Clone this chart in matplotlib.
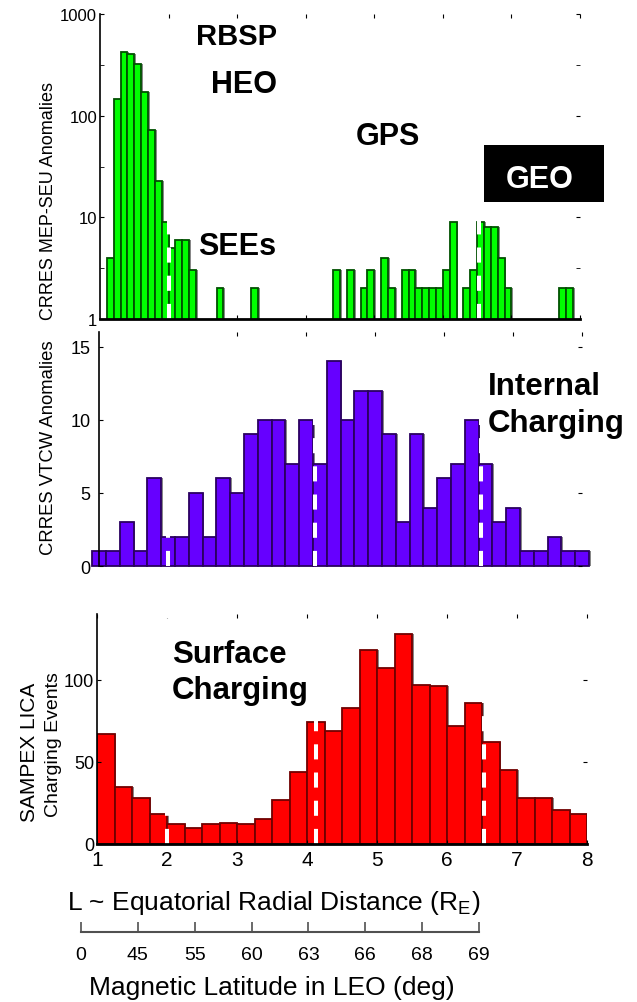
import matplotlib
matplotlib.use('Agg')
import matplotlib.pyplot as plt
from matplotlib.patches import Rectangle
from matplotlib.ticker import NullFormatter

plt.rcParams['font.family'] = ['Liberation Sans', 'DejaVu Sans']
plt.rcParams['mathtext.fontset'] = 'custom'
plt.rcParams['mathtext.rm'] = 'Liberation Sans'

W, H = 637, 1003

# CRRES MEP-SEU anomalies (bins of 0.1 L, left edges)
seu_L = [1.1, 1.2, 1.3, 1.4, 1.5, 1.6, 1.7, 1.8, 1.9, 2.0, 2.1, 2.2, 2.3,
         2.7, 3.2,
         4.4, 4.6, 4.8, 4.9, 5.1, 5.2, 5.4, 5.5, 5.6, 5.7, 5.8, 5.9, 6.0,
         6.1, 6.3, 6.4, 6.5, 6.6, 6.7, 6.8, 6.9, 7.7, 7.8]
seu_n = [4, 145, 420, 400, 320, 170, 73, 23, 9, 5, 6, 6, 3,
         2, 2,
         3, 3, 2, 3, 4, 2, 3, 3, 2, 2, 2, 2, 3,
         9, 2, 3, 9, 8, 8, 4, 2, 2, 2]

# CRRES VTCW anomalies (bins of 0.2 L starting at 0.9)
vtcw_start = 0.9
vtcw_n = [1, 1, 3, 1, 6, 2, 2, 5, 2, 6, 5, 9, 10, 10, 7, 10, 7, 14,
          10, 12, 12, 9, 3, 9, 4, 6, 7, 10, 7, 3, 4, 1, 1, 2, 1, 1]

# SAMPEX LICA charging events (bins of 0.25 L starting at 1)
lica_start = 1.0
lica_n = [67, 35, 28, 18, 12, 10, 12, 13, 12, 15, 27, 44, 74, 69,
          83, 118, 107, 128, 97, 96, 72, 86, 62, 45, 28, 28, 21, 18]

# white dashed boundaries (L)
bound_L = [2.0, 4.13, 6.53]

L_ticks = [1, 2, 3, 4, 5, 6, 7, 8]
lat_labels = ['0', '45', '55', '60', '63', '66', '68', '69']


def px_axes(x0, y0, x1, y1):
    return fig.add_axes([x0 / W, 1 - y1 / H, (x1 - x0) / W, (y1 - y0) / H])


def draw_bars(ax, left, vals, width, face, edge, px_per_L, clip=True):
    sh = 1.8 / px_per_L
    ax.bar([x + sh for x in left], vals, width=width, align='edge',
           color='#888888', linewidth=0, zorder=0.9, clip_on=clip)
    ax.bar(left, vals, width=width, align='edge', color=face,
           edgecolor=edge, linewidth=1.3, zorder=1, clip_on=clip)
    for b in bound_L:
        ax.axvline(b, color='white', lw=2.9, linestyle=(0, (3.75, 3.25)),
                   zorder=2.2)


fig = plt.figure(figsize=(W / 100, H / 100), dpi=100)

# ---- top: CRRES MEP-SEU (log)
ax1 = px_axes(100, 15, 580, 320)
ax1.set_yscale('log')
draw_bars(ax1, seu_L, seu_n, 0.1, '#00ff00', '#005000', 68.6)
ax1.set_xlim(1, 8)
ax1.set_ylim(1, 1000)
ax1.set_yticks([1, 10, 100, 1000])
ax1.set_yticklabels(['1', '10', '100', '1000'])
ax1.set_yticks([10 ** 0.5, 10 ** 1.5, 10 ** 2.5], minor=True)
ax1.yaxis.set_minor_formatter(NullFormatter())
ax1.set_xticks(L_ticks[1:])
ax1.set_xticks([], minor=True)
ax1.tick_params(axis='x', bottom=True, top=True, labelbottom=False,
                direction='in', length=3)
ax1.tick_params(axis='y', which='both', left=True, right=True,
                direction='in', length=3, labelsize=12, pad=2)
ax1.spines['top'].set_visible(False)
ax1.spines['right'].set_visible(False)
ax1.spines['left'].set_linewidth(1.2)
ax1.spines['bottom'].set_linewidth(2)
ax1.patch.set_alpha(0)

# ---- middle: CRRES VTCW
ax2 = px_axes(99, 333, 582, 567)
vtcw_L = [vtcw_start + 0.2 * i for i in range(len(vtcw_n))]
draw_bars(ax2, vtcw_L, vtcw_n, 0.2, '#6600ff', '#2a0060', 69, clip=False)
ax2.set_xlim(1, 8)
ax2.set_ylim(0, 16)
ax2.set_yticks([0, 5, 10, 15])
ax2.set_xticks(L_ticks[1:])
ax2.tick_params(axis='x', bottom=False, top=True, labelbottom=False,
                direction='in', length=3)
ax2.tick_params(axis='y', left=True, right=True, direction='in',
                length=3, labelsize=13, pad=6)
for s in ['top', 'right', 'bottom']:
    ax2.spines[s].set_visible(False)
ax2.spines['left'].set_linewidth(1.2)
ax2.patch.set_alpha(0)

# ---- bottom: SAMPEX LICA
ax3 = px_axes(97, 615, 587, 845)
lica_L = [lica_start + 0.25 * i for i in range(len(lica_n))]
draw_bars(ax3, lica_L, lica_n, 0.25, '#ff0000', '#700000', 70)
ax3.set_xlim(1, 8)
ax3.set_ylim(0, 140)
ax3.set_yticks([0, 50, 100])
ax3.set_xticks(L_ticks)
ax3.tick_params(axis='x', bottom=True, top=True, direction='in',
                length=3, labelsize=15, pad=4)
ax3.tick_params(axis='y', left=True, right=True, direction='in',
                length=3, labelsize=13, pad=2)
ax3.spines['top'].set_visible(False)
ax3.spines['right'].set_visible(False)
ax3.spines['left'].set_linewidth(1.2)
ax3.spines['bottom'].set_linewidth(2)
ax3.patch.set_alpha(0)

# ---- magnetic latitude scale
ax4 = px_axes(81, 923, 479, 933)
ax4.set_xlim(0, len(lat_labels) - 1)
ax4.set_xticks(range(len(lat_labels)))
ax4.set_xticklabels(lat_labels)
ax4.set_yticks([])
ax4.tick_params(axis='x', direction='in', length=7, width=1.2,
                color='#505050', labelsize=14, pad=10)
for s in ['top', 'right', 'left']:
    ax4.spines[s].set_visible(False)
ax4.spines['bottom'].set_color('#505050')
ax4.spines['bottom'].set_linewidth(1.5)
ax4.patch.set_alpha(0)

# ---- labels
def ftext(x, y, s, **kw):
    return fig.text(x / W, 1 - y / H, s, **kw)


ftext(53, 320, 'CRRES MEP-SEU Anomalies', rotation=90,
      rotation_mode='anchor', ha='left', va='baseline', fontsize=13)
ftext(53, 555, 'CRRES VTCW Anomalies', rotation=90,
      rotation_mode='anchor', ha='left', va='baseline', fontsize=13.3)
ftext(35, 822, 'SAMPEX LICA', rotation=90,
      rotation_mode='anchor', ha='left', va='baseline', fontsize=15)
ftext(58, 817, 'Charging Events', rotation=90,
      rotation_mode='anchor', ha='left', va='baseline', fontsize=14)

ftext(274, 910, r'L ~ Equatorial Radial Distance (R$_\mathregular{E}$)',
      ha='center', va='baseline', fontsize=19)
ftext(272, 995, 'Magnetic Latitude in LEO (deg)',
      ha='center', va='baseline', fontsize=19)

bold = dict(fontweight='bold', va='baseline')
ftext(237, 45, 'RBSP', ha='center', fontsize=21, **bold)
ftext(244, 93, 'HEO', ha='center', fontsize=22, **bold)
ftext(237, 255, 'SEEs', ha='center', fontsize=22, **bold)
ftext(388, 145, 'GPS', ha='center', fontsize=22, **bold)

fig.add_artist(Rectangle((484 / W, 1 - 203 / H), 120 / W, 57 / H,
                         transform=fig.transFigure, facecolor='black',
                         edgecolor='none', zorder=5))
ftext(540, 188, 'GEO', ha='center', fontsize=22, color='white', zorder=6,
      **bold)

ftext(488, 395, 'Internal', ha='left', fontsize=22.5, **bold)
ftext(488, 432, 'Charging', ha='left', fontsize=22.5, **bold)
ftext(172, 663, 'Surface', ha='left', fontsize=22.5, **bold)
ftext(172, 699, 'Charging', ha='left', fontsize=22.5, **bold)

fig.savefig('out.png', dpi=100)
